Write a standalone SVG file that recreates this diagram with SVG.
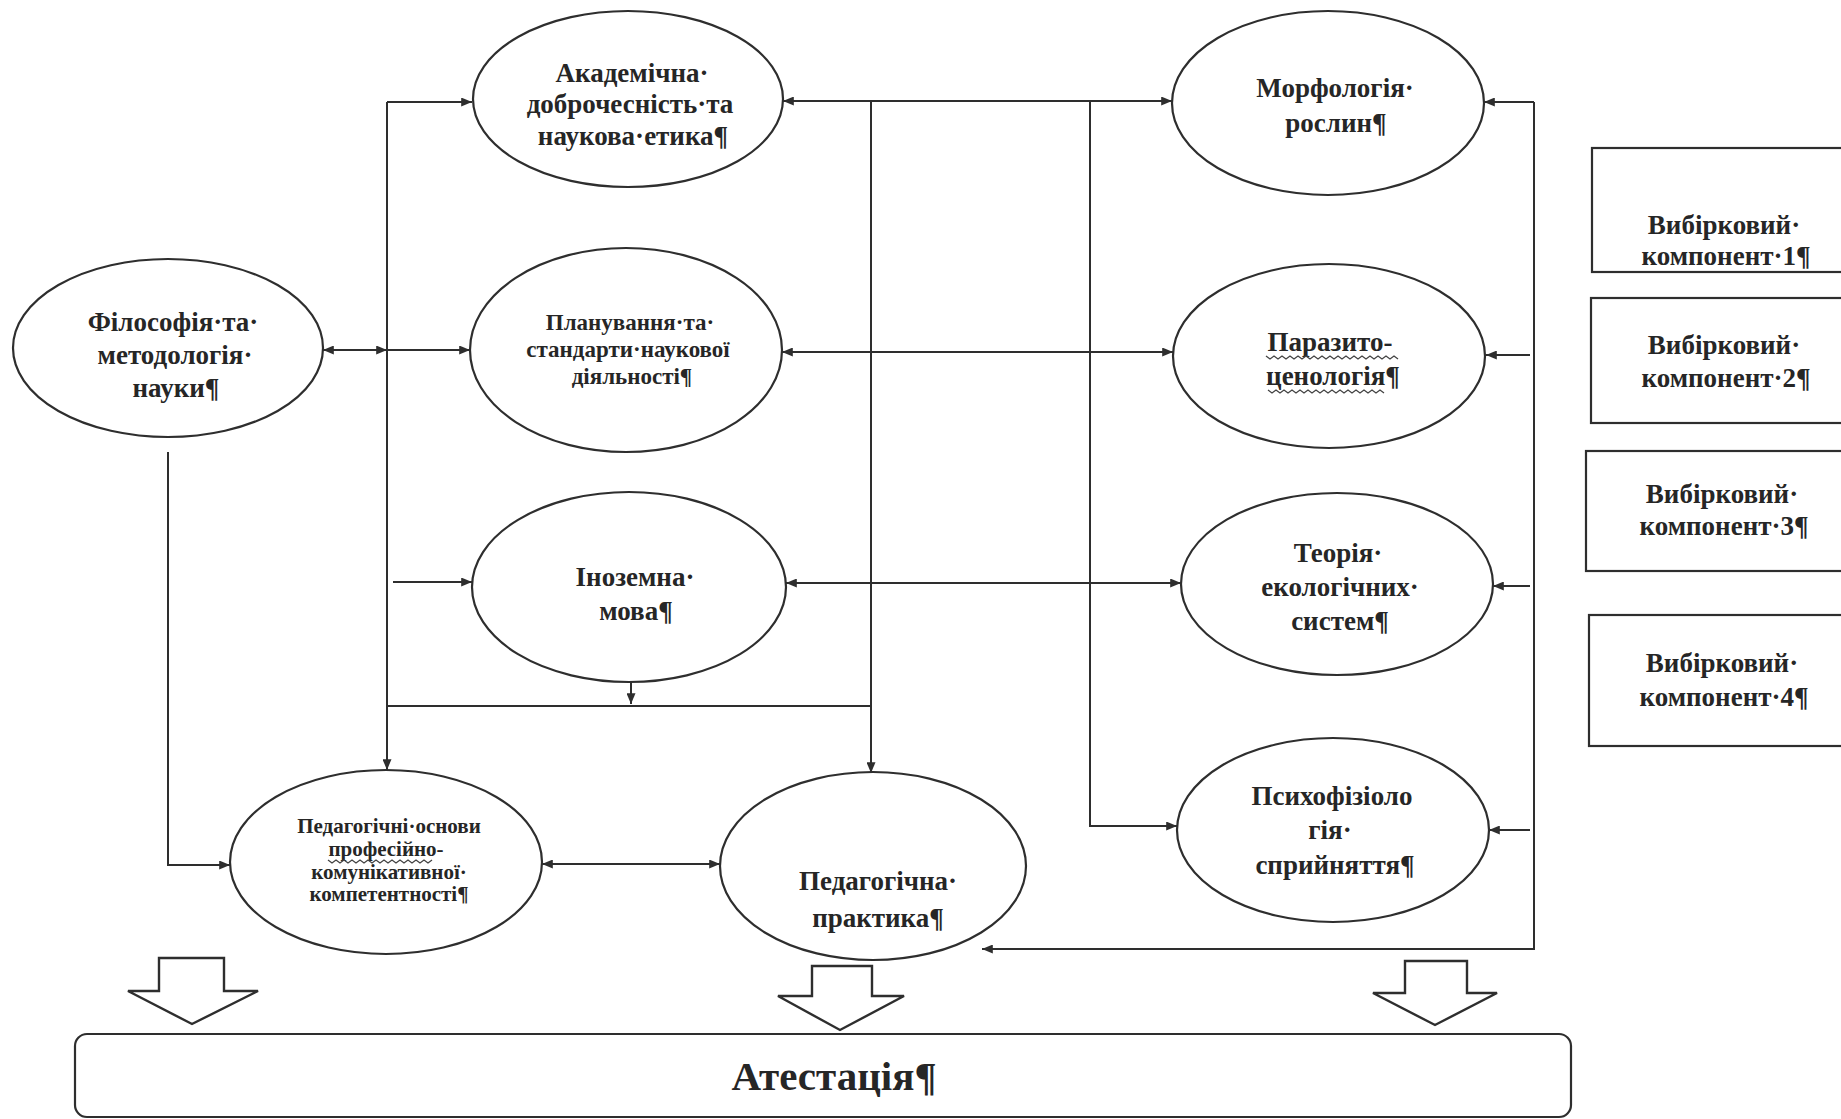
<svg xmlns="http://www.w3.org/2000/svg" width="1841" height="1119" viewBox="0 0 1841 1119">
<style>
.n{fill:#fff;stroke:#2e2e2e;stroke-width:2.2}
.t{font-family:"Liberation Serif","Times New Roman",serif;font-weight:bold;fill:#262626;text-anchor:middle}
.f27{font-size:27px}
.f23{font-size:23px}
.f21{font-size:21px}
.f36{font-size:41px}
.c{fill:none;stroke:#2e2e2e;stroke-width:2}
.b{fill:#fff;stroke:#2e2e2e;stroke-width:2.4;stroke-linejoin:miter}
.w{fill:none;stroke:#444;stroke-width:1.3}
</style>
<defs>
<marker id="ah" viewBox="0 0 12 10" refX="12" refY="5" markerWidth="12" markerHeight="9" markerUnits="userSpaceOnUse" orient="auto-start-reverse">
<path d="M0,0 L12,5 L0,10 z" fill="#2e2e2e"/>
</marker>
</defs>
<rect width="1841" height="1119" fill="#fff"/>

<g id="connectors">
<path class="c" d="M387,102 H472" marker-end="url(#ah)"/>
<path class="c" d="M387,102 V770" marker-end="url(#ah)"/>
<path class="c" d="M323,350 H387" marker-start="url(#ah)" marker-end="url(#ah)"/>
<path class="c" d="M387,350 H470" marker-end="url(#ah)"/>
<path class="c" d="M393,582 H472" marker-end="url(#ah)"/>
<path class="c" d="M387,706 H871"/>
<path class="c" d="M631,682 V704" marker-end="url(#ah)"/>
<path class="c" d="M871,102 V773" marker-end="url(#ah)"/>
<path class="c" d="M168,452 V865 H230" marker-end="url(#ah)"/>
<path class="c" d="M542,864 H720" marker-start="url(#ah)" marker-end="url(#ah)"/>
<path class="c" d="M783,101 H1172" marker-start="url(#ah)" marker-end="url(#ah)"/>
<path class="c" d="M1090,101 V826 H1177" marker-end="url(#ah)"/>
<path class="c" d="M782,352 H1173" marker-start="url(#ah)" marker-end="url(#ah)"/>
<path class="c" d="M786,583 H1181" marker-start="url(#ah)" marker-end="url(#ah)"/>
<path class="c" d="M1534,102 H1484" marker-end="url(#ah)"/>
<path class="c" d="M1534,102 V949 H982" marker-end="url(#ah)"/>
<path class="c" d="M1530,355 H1486" marker-end="url(#ah)"/>
<path class="c" d="M1530,586 H1493" marker-end="url(#ah)"/>
<path class="c" d="M1530,830 H1489" marker-end="url(#ah)"/>
</g>

<g id="n-akademichna">
<ellipse class="n" cx="628" cy="99" rx="155" ry="88"/>
<text class="t f27" x="632" y="82">Академічна·</text>
<text class="t f27" x="630" y="113">доброчесність·та</text>
<text class="t f27" x="633" y="145">наукова·етика¶</text>
</g>

<g id="n-filosofiya">
<ellipse class="n" cx="168" cy="348" rx="155" ry="89"/>
<text class="t f27" x="173" y="331">Філософія·та·</text>
<text class="t f27" x="175" y="364">методологія·</text>
<text class="t f27" x="176" y="397">науки¶</text>
</g>

<g id="n-planuvannya">
<ellipse class="n" cx="626" cy="350" rx="156" ry="102"/>
<text class="t f23" x="630" y="330">Планування·та·</text>
<text class="t f23" x="628" y="357">стандарти·наукової</text>
<text class="t f23" x="632" y="384">діяльності¶</text>
</g>

<g id="n-inozemna">
<ellipse class="n" cx="629" cy="587" rx="157" ry="95"/>
<text class="t f27" x="635" y="586">Іноземна·</text>
<text class="t f27" x="636" y="620">мова¶</text>
</g>

<g id="n-pedosnovy">
<ellipse class="n" cx="386" cy="862" rx="156" ry="92"/>
<text class="t f21" x="389" y="833">Педагогічні·основи</text>
<text class="t f21" x="386" y="856">професійно-</text>
<text class="t f21" x="389" y="879">комунікативної·</text>
<text class="t f21" x="389" y="901">компетентності¶</text>
<path class="w" d="M328,860 l4,3 l4,-3 l4,3 l4,-3 l4,3 l4,-3 l4,3 l4,-3 l4,3 l4,-3 l4,3 l4,-3 l4,3 l4,-3 l4,3 l4,-3 l4,3 l4,-3 l4,3 l4,-3 l4,3 l4,-3 l4,3 l4,-3 l4,3 l4,-3"/>
</g>

<g id="n-pedpraktyka">
<ellipse class="n" cx="873" cy="866" rx="153" ry="94"/>
<text class="t f27" x="878" y="890">Педагогічна·</text>
<text class="t f27" x="878" y="927">практика¶</text>
</g>

<g id="n-morfologiya">
<ellipse class="n" cx="1328" cy="103" rx="156" ry="92"/>
<text class="t f27" x="1335" y="97">Морфологія·</text>
<text class="t f27" x="1336" y="132">рослин¶</text>
</g>

<g id="n-parazyto">
<ellipse class="n" cx="1329" cy="356" rx="156" ry="92"/>
<text class="t f27" x="1330" y="351">Паразито-</text>
<text class="t f27" x="1333" y="385">ценологія¶</text>
<path class="w" d="M1266,356 l4,3 l4,-3 l4,3 l4,-3 l4,3 l4,-3 l4,3 l4,-3 l4,3 l4,-3 l4,3 l4,-3 l4,3 l4,-3 l4,3 l4,-3 l4,3 l4,-3 l4,3 l4,-3 l4,3 l4,-3 l4,3 l4,-3 l4,3 l4,-3 l4,3 l4,-3 l4,3 l4,-3 l4,3 l4,-3 l4,3"/>
<path class="w" d="M1268,390 l4,3 l4,-3 l4,3 l4,-3 l4,3 l4,-3 l4,3 l4,-3 l4,3 l4,-3 l4,3 l4,-3 l4,3 l4,-3 l4,3 l4,-3 l4,3 l4,-3 l4,3 l4,-3 l4,3 l4,-3 l4,3 l4,-3 l4,3 l4,-3 l4,3 l4,-3 l4,3"/>
</g>

<g id="n-teoriya">
<ellipse class="n" cx="1337" cy="584" rx="156" ry="91"/>
<text class="t f27" x="1338" y="562">Теорія·</text>
<text class="t f27" x="1340" y="596">екологічних·</text>
<text class="t f27" x="1340" y="630">систем¶</text>
</g>

<g id="n-psykhofiziologiya">
<ellipse class="n" cx="1333" cy="830" rx="156" ry="92"/>
<text class="t f27" x="1332" y="805">Психофізіоло</text>
<text class="t f27" x="1330" y="839">гія·</text>
<text class="t f27" x="1335" y="874">сприйняття¶</text>
</g>

<g id="n-vybirkovyi-1">
<rect class="n" x="1592" y="148" width="253" height="124"/>
<text class="t f27" x="1724" y="234">Вибірковий·</text>
<text class="t f27" x="1726" y="265">компонент·1¶</text>
</g>
<g id="n-vybirkovyi-2">
<rect class="n" x="1591" y="298" width="254" height="125"/>
<text class="t f27" x="1724" y="354">Вибірковий·</text>
<text class="t f27" x="1726" y="387">компонент·2¶</text>
</g>
<g id="n-vybirkovyi-3">
<rect class="n" x="1586" y="451" width="259" height="120"/>
<text class="t f27" x="1722" y="503">Вибірковий·</text>
<text class="t f27" x="1724" y="535">компонент·3¶</text>
</g>
<g id="n-vybirkovyi-4">
<rect class="n" x="1589" y="615" width="256" height="131"/>
<text class="t f27" x="1722" y="672">Вибірковий·</text>
<text class="t f27" x="1724" y="706">компонент·4¶</text>
</g>

<g id="block-arrows">
<polygon class="b" points="159,958 224,958 224,991 258,991 192,1024 128,991 159,991"/>
<polygon class="b" points="812,966 872,966 872,996 904,996 840,1030 778,996 812,996"/>
<polygon class="b" points="1405,961 1467,961 1467,993 1497,993 1435,1025 1373,993 1405,993"/>
</g>

<g id="n-atestatsiya">
<rect class="n" x="75" y="1034" width="1496" height="83" rx="12"/>
<text class="t f36" x="834" y="1090">Атестація¶</text>
</g>
</svg>
